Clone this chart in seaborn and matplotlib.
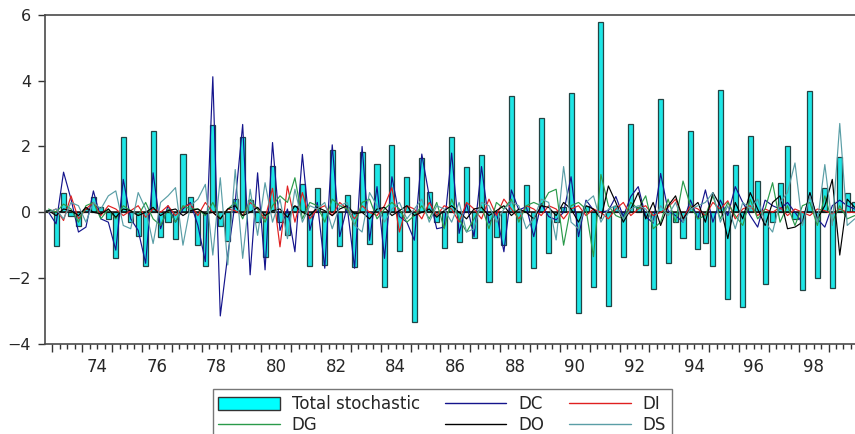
import matplotlib

matplotlib.use("Agg")

import matplotlib.pyplot as plt
import numpy as np
import pandas as pd
import seaborn as sns
from matplotlib.lines import Line2D
from matplotlib.patches import Patch

# quarterly observations, 1972Q4 .. 1999Q4 (one value per quarter, rows = years)
START = "1972Q4"

total_stochastic = [
    0.08,
    -1.02, 0.58, -0.10, -0.42,
    0.10, 0.45, 0.15, -0.20,
    -1.40, 2.30, -0.30, -0.72,
    -1.63, 2.48, -0.76, -0.30,
    -0.81, 1.76, 0.48, -1.00,
    -1.62, 2.66, -0.41, -0.87,
    0.40, 2.30, 0.37, -0.30,
    -1.35, 1.40, -0.30, -0.69,
    0.20, 0.85, -1.63, 0.75,
    -1.60, 1.90, -1.02, 0.54,
    -1.65, 1.83, -0.97, 1.47,
    -2.28, 2.05, -1.18, 1.06,
    -3.32, 1.64, 0.63, -0.30,
    -1.07, 2.29, -0.91, 1.37,
    -0.79, 1.73, -2.12, -0.74,
    -1.00, 3.54, -2.13, 0.83,
    -1.70, 2.88, -1.25, -0.28,
    0.15, 3.62, -3.07, 0.20,
    -2.28, 5.78, -2.85, 0.20,
    -1.35, 2.67, 0.15, -1.60,
    -2.34, 3.43, -1.55, -0.30,
    -0.79, 2.48, -1.11, -0.94,
    -1.62, 3.72, -2.64, 1.44,
    -2.89, 2.32, 0.95, -2.19,
    -0.30, 0.88, 2.03, -0.20,
    -2.36, 3.69, -2.00, 0.73,
    -2.31, 1.69, 0.60, 0.30,
]

dc = [
    0.00,
    -0.35, 1.22, 0.40, -0.60,
    -0.45, 0.65, -0.20, -0.30,
    -1.15, 1.00, -0.20, -0.55,
    -1.55, 1.20, -0.50, 0.20,
    -0.30, 0.10, 0.30, -0.40,
    -1.50, 4.12, -3.15, -1.30,
    0.30, 2.67, -1.90, 1.20,
    -1.75, 2.12, -0.55, 0.10,
    -1.20, 1.76, -0.55, 0.30,
    -1.70, 2.05, -0.74, 0.17,
    -1.70, 2.00, -0.85, 0.78,
    -1.40, 1.08, -0.13, -0.30,
    -0.85, 1.77, 0.48, -0.50,
    -0.45, 1.80, -0.64, 0.27,
    -0.74, 1.39, -0.33, 0.00,
    -1.20, 0.68, 0.07, 0.17,
    -0.74, 0.27, -0.13, -0.23,
    0.00, 1.08, -0.74, 0.37,
    0.07, 0.00, 0.05, 0.48,
    -0.13, 0.48, 0.78, -0.13,
    -0.33, 1.18, 0.05, -0.10,
    -0.30, 0.37, -0.20, 0.68,
    -0.30, 0.37, -0.10, 0.78,
    0.30, -0.10, -0.45, 0.37,
    0.20, 0.10, 0.30, 0.00,
    -0.33, 0.58, -0.20, -0.45,
    0.20, 0.37, 0.20, 0.10,
]

di = [
    0.00,
    0.10, -0.25, 0.50, -0.20,
    0.10, 0.30, -0.10, 0.20,
    0.10, -0.10, 0.05, 0.20,
    -0.15, 0.10, 0.00, 0.20,
    -0.10, 0.15, 0.25, -0.10,
    0.30, 0.00, -0.20, 0.10,
    0.05, -0.10, 0.30, 0.10,
    -0.20, 0.73, -1.05, 0.80,
    -0.30, 0.60, -0.20, 0.10,
    0.20, -0.10, 0.30, 0.10,
    -0.20, 0.20, 0.00, -0.10,
    0.20, 0.75, -0.60, 0.20,
    0.10, -0.20, 0.30, -0.10,
    0.20, 0.10, -0.30, 0.30,
    0.10, -0.20, 0.40, -0.10,
    0.40, 0.10, -0.20, 0.20,
    0.10, -0.10, 0.20, 0.10,
    -0.20, 0.10, 0.20, -0.10,
    0.10, 0.00, -0.20, 0.10,
    0.30, -0.10, 0.10, 0.20,
    -0.10, 0.00, 0.15, 0.40,
    -0.20, 0.20, 0.10, -0.10,
    0.30, 0.10, 0.35, -0.20,
    0.10, 0.20, -0.10, 0.10,
    0.00, 0.15, -0.10, 0.10,
    0.00, -0.10, 0.10, 0.05,
    -0.05, 0.10, 0.00, 0.00,
]

dg = [
    0.10,
    0.00, 0.25, 0.10, -0.30,
    0.20, 0.30, -0.20, 0.10,
    -0.20, 0.20, 0.05, -0.10,
    0.30, -0.20, -0.40, 0.10,
    -0.30, 0.20, 0.10, 0.10,
    -0.10, 0.30, -0.20, 0.10,
    0.30, -0.20, 0.40, 0.10,
    -0.30, 0.20, 0.50, 0.30,
    1.05, -0.20, 0.30, 0.20,
    -0.30, 0.40, 0.20, 0.10,
    -0.40, 0.30, 0.40, -0.20,
    0.10, 0.30, 0.10, -0.30,
    -0.10, 0.20, -0.20, 0.30,
    -0.50, 0.40, -0.20, -0.60,
    -0.20, 0.20, -0.50, 0.30,
    0.10, 0.40, -0.30, 0.20,
    0.30, 0.20, 0.60, 0.70,
    -1.00, 0.20, 0.30, 0.10,
    -1.35, 1.15, 0.20, -0.10,
    -0.20, 0.30, 0.10, 0.50,
    -0.50, -0.30, 0.40, -0.30,
    0.95, 0.20, -0.20, -0.10,
    0.50, -0.20, 0.30, -0.10,
    -0.40, 0.40, -0.20, 0.10,
    0.90, -0.30, 0.20, -0.40,
    0.20, 0.30, -0.40, 0.50,
    -0.30, 0.20, -0.20, -0.10,
]

do = [
    0.05,
    -0.10, 0.10, 0.05, -0.10,
    0.15, 0.00, -0.05, 0.10,
    -0.15, 0.10, 0.05, -0.10,
    0.00, 0.15, -0.10, 0.05,
    0.10, -0.10, 0.05, 0.10,
    -0.05, 0.00, -0.20, 0.10,
    0.20, -0.10, 0.00, 0.15,
    -0.10, 0.05, 0.10, -0.15,
    0.20, 0.00, -0.10, 0.15,
    0.05, -0.10, 0.10, 0.20,
    -0.05, 0.00, -0.20, 0.10,
    0.15, -0.10, 0.05, 0.20,
    -0.10, 0.00, 0.10, -0.15,
    0.05, 0.20, 0.00, -0.20,
    0.10, 0.15, -0.10, 0.05,
    0.20, -0.10, 0.10, 0.00,
    -0.20, 0.20, 0.15, -0.10,
    0.30, 0.10, -0.30, 0.20,
    0.10, -0.20, 0.80, 0.30,
    -0.30, 0.10, 0.60, -0.20,
    0.30, -0.40, 0.20, 0.50,
    -0.20, 0.10, 0.30, -0.30,
    0.60, 0.20, -0.80, 0.30,
    -0.20, 0.60, 0.10, -0.40,
    0.30, 0.50, -0.50, -0.45,
    -0.30, 0.60, -0.20, 0.20,
    1.00, -1.30, 0.40, 0.15,
]

ds = [
    0.00,
    0.10, -0.20, 0.30, 0.20,
    -0.30, 0.30, 0.10, 0.50,
    0.65, -0.40, -0.50, 0.60,
    0.10, -0.95, 0.30, 0.50,
    0.75, -1.00, 0.20, 0.40,
    0.85, -1.30, 1.05, -1.60,
    1.30, -1.40, 0.70, -0.70,
    0.90, -0.30, 0.40, -0.80,
    0.70, -0.30, 0.20, 0.10,
    0.30, -0.50, 0.20, 0.30,
    -0.40, -0.60, 0.60, 0.20,
    -0.30, 0.10, 0.30, -0.20,
    0.10, 0.40, -0.30, 0.20,
    0.10, -0.30, 0.30, -0.60,
    -0.50, 0.30, 0.20, -0.30,
    0.10, 0.30, 0.20, -0.50,
    -0.20, 0.40, 0.30, -0.84,
    1.39, -0.30, -0.50, 0.30,
    0.50, -0.30, 0.10, 0.20,
    -0.20, 0.10, 0.20, 0.10,
    -0.30, 0.20, -0.10, 0.30,
    -0.30, 0.10, 0.20, 0.30,
    0.60, -0.30, 0.20, -0.50,
    0.30, 0.10, 0.40, -0.30,
    -0.60, 0.30, 0.60, 1.50,
    -0.40, 0.50, -0.30, 1.45,
    -0.40, 2.70, -0.40, -0.20,
]

BAR_LABEL = "Total stochastic"
LINE_NAMES = ["DC", "DI", "DG", "DO", "DS"]
LINE_COLORS = {"DC": "#14148c", "DI": "#e02020", "DG": "#2a9a4a", "DO": "#000000", "DS": "#5a9ea6"}
BAR_FACE = "#1ee6e6"
BAR_EDGE = "#224444"

quarters = pd.period_range(START, periods=len(total_stochastic), freq="Q")
xpos = (quarters.year + (quarters.quarter - 1) / 4 + 0.125).to_numpy(dtype=float)

lines = pd.DataFrame({"x": xpos, "DC": dc, "DI": di, "DG": dg, "DO": do, "DS": ds})
lines = lines.melt(id_vars="x", var_name="series", value_name="value")

sns.set_style("ticks")
plt.rcParams["font.family"] = ["DejaVu Sans"]

fig = plt.figure(figsize=(8.55, 4.34), dpi=100)
ax = fig.add_axes([0.0525, 0.2076, 0.9475, 0.7581])

sns.barplot(
    x=xpos,
    y=total_stochastic,
    native_scale=True,
    width=0.68,
    color=BAR_FACE,
    saturation=1,
    edgecolor=BAR_EDGE,
    linewidth=0.9,
    errorbar=None,
    ax=ax,
    zorder=2,
)
ax.axhline(0, color="#111111", lw=1.1, zorder=2.5)
sns.lineplot(
    data=lines,
    x="x",
    y="value",
    hue="series",
    hue_order=LINE_NAMES,
    palette=LINE_COLORS,
    linewidth=0.85,
    legend=False,
    ax=ax,
    zorder=3,
)

ax.set_xlim(1972.75, 1972.75 + 810 / 29.85)
ax.set_ylim(-4, 6)
ax.set_yticks(np.arange(-4, 7, 2))
ax.set_xticks(np.arange(1973, 2000), labels=[])
ax.set_xticks(np.arange(1973, 2000, 0.25), minor=True)
ax.tick_params(axis="x", which="major", length=6, width=1, color="#333333", direction="out")
ax.tick_params(axis="x", which="minor", length=3.5, width=1, color="#333333", direction="out")
ax.tick_params(axis="y", length=5, width=1, color="#333333", pad=5, labelsize=11.5)
ax.set_xlabel("")
ax.set_ylabel("")

years = np.arange(1974, 2000, 2)
sec = ax.secondary_xaxis("bottom")
sec.set_xticks(years + 0.5, labels=[f"{y % 100:02d}" for y in years])
sec.tick_params(length=0, pad=10.5, labelsize=12)
sec.spines["bottom"].set_visible(False)

for side in ("left", "top", "bottom"):
    ax.spines[side].set_color("#4a4a4a")
    ax.spines[side].set_linewidth(1.2)
ax.spines["right"].set_visible(False)

handles = [
    Patch(facecolor="#00ffff", edgecolor="#333333", linewidth=1),
    Line2D([], [], color=LINE_COLORS["DG"], lw=1),
    Line2D([], [], color=LINE_COLORS["DC"], lw=1),
    Line2D([], [], color=LINE_COLORS["DO"], lw=1),
    Line2D([], [], color=LINE_COLORS["DI"], lw=1),
    Line2D([], [], color=LINE_COLORS["DS"], lw=1),
]
labels = [BAR_LABEL, "DG", "DC", "DO", "DI", "DS"]
leg = fig.legend(
    handles,
    labels,
    loc="upper center",
    bbox_to_anchor=(0.517, 0.103),
    ncol=3,
    frameon=True,
    fancybox=False,
    edgecolor="#555555",
    fontsize=12,
    handlelength=3.7,
    handleheight=0.8,
    handletextpad=0.7,
    columnspacing=1.5,
    labelspacing=0.2,
    borderpad=0.35,
    borderaxespad=0,
)
leg.get_frame().set_linewidth(1.0)

fig.savefig("out.png", dpi=100)
